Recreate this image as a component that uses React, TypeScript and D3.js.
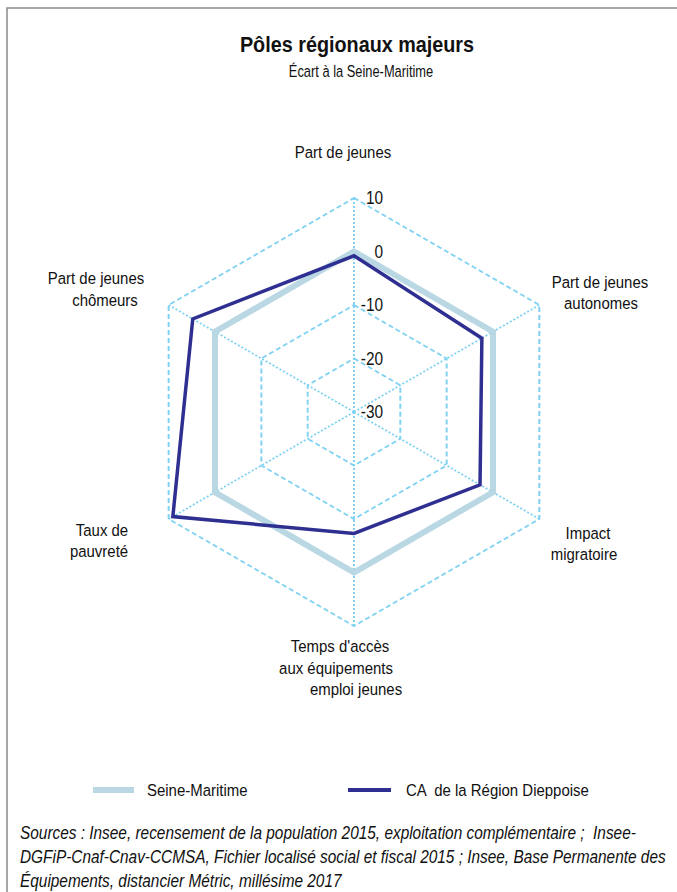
import React from 'react';
import * as d3 from 'd3';

const axes = [
	'Part de jeunes',
	'Part de jeunes autonomes',
	'Impact migratoire',
	"Temps d'accès aux équipements emploi jeunes",
	'Taux de pauvreté',
	'Part de jeunes chômeurs',
];
const seineMaritime = [0, 0, 0, 0, 0, 0];
const dieppoise = [-0.8, -2.4, -2.8, -7.3, 9.1, 4.8];
const ticks = [10, 0, -10, -20, -30];

// axis label lines, with the position of each line (centre x, baseline y)
const labelLines: [string, number, number][][] = [
	[['Part de jeunes', 343, 158]],
	[['Part de jeunes', 600, 288], ['autonomes', 601, 309]],
	[['Impact', 588, 539], ['migratoire', 584, 560]],
	[["Temps d'accès", 340, 652], ['aux équipements', 336, 674], ['emploi jeunes', 356, 695]],
	[['Taux de', 102, 536], ['pauvreté', 99, 557]],
	[['Part de jeunes', 96, 284], ['chômeurs', 105, 306]],
];

const FONT = '"Liberation Sans", Arial, sans-serif';
const SX = 0.88; // narrow the glyphs a little, like the original condensed face

const T: React.FC<{
	x: number;
	y: number;
	size: number;
	anchor?: 'start' | 'middle' | 'end';
	sx?: number;
	weight?: string;
	italic?: boolean;
	dy?: string;
	children: React.ReactNode;
}> = ({ x, y, size, anchor = 'start', sx = SX, weight, italic, dy, children }) => (
	<text
		transform={`translate(${x},${y}) scale(${sx},1)`}
		textAnchor={anchor}
		fontSize={size}
		fontWeight={weight}
		fontStyle={italic ? 'italic' : undefined}
		dy={dy}
		fill='#111'
		style={{ whiteSpace: 'pre' }}
	>
		{children}
	</text>
);

const App: React.FC = () => {
	const width = 677;
	const height = 892;
	const cx = 354;
	const cy = 412;
	const R = 214;

	const r = d3.scaleLinear().domain([-30, 10]).range([0, R]);
	const step = (2 * Math.PI) / axes.length;
	const a = (i: number) => i * step;

	const radar = d3
		.lineRadial<number>()
		.angle((_, i) => a(i))
		.radius((d) => r(d))
		.curve(d3.curveLinearClosed);

	const ring = (v: number) => radar(axes.map(() => v)) as string;

	return (
		<svg
			width={width}
			height={height}
			style={{ position: 'absolute', left: 0, top: 0, display: 'block', background: '#fff' }}
			fontFamily={FONT}
		>
			<path d={`M7,${height} V8 H${width}`} fill='none' stroke='#8a8a8a' strokeWidth={1.5} />

			<T x={357} y={52} size={22} anchor='middle' sx={0.9} weight='bold'>
				Pôles régionaux majeurs
			</T>
			<T x={361} y={77} size={16.5} anchor='middle' sx={0.78}>
				Écart à la Seine-Maritime
			</T>

			<g transform={`translate(${cx},${cy})`}>
				{ticks.slice(0, 4).map((t) => (
					<path
						key={t}
						d={ring(t)}
						fill='none'
						stroke='#80d2f3'
						strokeWidth={2}
						strokeDasharray='5,3'
					/>
				))}
				{axes.map((_, i) => (
					<line
						key={i}
						x1={0}
						y1={0}
						x2={R * Math.sin(a(i))}
						y2={-R * Math.cos(a(i))}
						stroke='#80d2f3'
						strokeWidth={2}
						strokeDasharray='2,2'
					/>
				))}
				<path d={radar(seineMaritime) as string} fill='none' stroke='#b9d8e4' strokeWidth={6} />
				<path d={radar(dieppoise) as string} fill='none' stroke='#2f2f92' strokeWidth={3.5} />
				{ticks.map((t) => (
					<T key={t} x={29} y={-r(t)} dy='0.35em' size={17.5} anchor='end'>
						{t}
					</T>
				))}
			</g>

			{labelLines.map((lines, i) =>
				lines.map(([txt, x, y], j) => (
					<T key={`${i}-${j}`} x={x} y={y} size={17} anchor='middle'>
						{txt}
					</T>
				))
			)}

			<line x1={93} x2={134} y1={790} y2={790} stroke='#b9d8e4' strokeWidth={6} />
			<T x={147} y={796} size={17}>
				Seine-Maritime
			</T>
			<line x1={348} x2={391} y1={790} y2={790} stroke='#2f2f92' strokeWidth={4} />
			<T x={406} y={796} size={17}>
				CA  de la Région Dieppoise
			</T>

			<T x={20} y={839} size={17.5} italic>
				Sources : Insee, recensement de la population 2015, exploitation complémentaire ;  Insee-
			</T>
			<T x={20} y={863} size={17.5} italic>
				DGFiP-Cnaf-Cnav-CCMSA, Fichier localisé social et fiscal 2015 ; Insee, Base Permanente des
			</T>
			<T x={20} y={887} size={17.5} italic>
				Équipements, distancier Métric, millésime 2017
			</T>
		</svg>
	);
};

export default App;
